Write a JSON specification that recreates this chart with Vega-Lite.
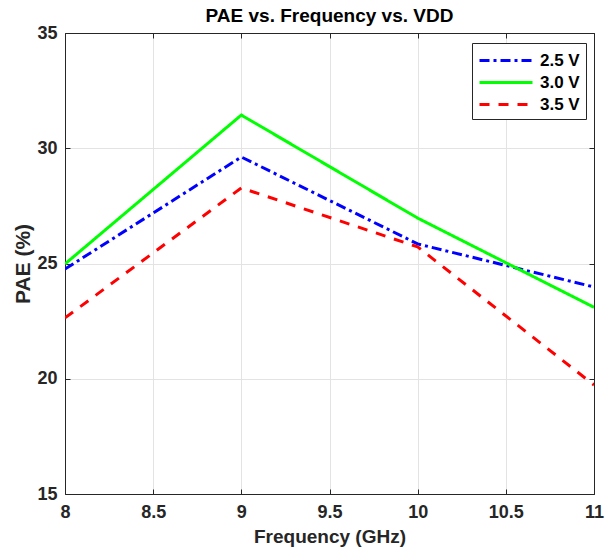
{
  "$schema": "https://vega.github.io/schema/vega-lite/v6.json",
  "width": 529,
  "height": 461,
  "autosize": {"type": "none"},
  "padding": {"left": 65, "top": 33, "right": 19, "bottom": 62},
  "background": "white",
  "title": {"text": "PAE vs. Frequency vs. VDD", "fontSize": 19, "fontWeight": "bold", "font": "Liberation Sans", "color": "#000000", "offset": -2},
  "data": {"values": [
    {"f": 8, "pae": 24.76, "v": "2.5 V"},
    {"f": 9, "pae": 29.62, "v": "2.5 V"},
    {"f": 10, "pae": 25.85, "v": "2.5 V"},
    {"f": 11, "pae": 23.98, "v": "2.5 V"},
    {"f": 8, "pae": 24.98, "v": "3.0 V"},
    {"f": 9, "pae": 31.44, "v": "3.0 V"},
    {"f": 10, "pae": 26.97, "v": "3.0 V"},
    {"f": 11, "pae": 23.1, "v": "3.0 V"},
    {"f": 8, "pae": 22.64, "v": "3.5 V"},
    {"f": 9, "pae": 28.28, "v": "3.5 V"},
    {"f": 10, "pae": 25.72, "v": "3.5 V"},
    {"f": 11, "pae": 19.73, "v": "3.5 V"}
  ]},
  "config": {
    "view": {"stroke": "#262626", "strokeWidth": 1},
    "font": "Liberation Sans",
    "axis": {
      "labelFont": "Liberation Sans", "labelFontSize": 18, "labelFontWeight": "bold", "labelColor": "#262626",
      "titleFont": "Liberation Sans", "titleFontSize": 19, "titleFontWeight": "bold", "titleColor": "#262626",
      "domainColor": "#262626", "tickColor": "#262626", "tickSize": -5,
      "gridColor": "#e3e3e3", "gridWidth": 1
    },
    "legend": {
      "title": null, "orient": "none", "legendX": 407, "legendY": 10,
      "symbolType": "M-1,0H4.3", "symbolSize": 400, "symbolStrokeWidth": 3, "symbolFillColor": "transparent",
      "labelFontSize": 17, "labelFontWeight": "bold", "labelColor": "#000000", "labelFont": "Liberation Sans",
      "strokeColor": "#262626", "fillColor": "white", "padding": 6, "rowPadding": 2, "labelOffset": 39
    }
  },
  "resolve": {"axis": {"x": "independent", "y": "independent"}},
  "layer": [
    {
      "mark": {"type": "line", "strokeWidth": 3, "clip": true},
      "encoding": {
        "x": {"field": "f", "type": "quantitative", "scale": {"domain": [8, 11], "nice": false, "zero": false},
              "axis": {"title": "Frequency (GHz)", "values": [8, 8.5, 9, 9.5, 10, 10.5, 11], "labelPadding": 14, "titlePadding": 6, "format": "~g", "labelFlush": false}},
        "y": {"field": "pae", "type": "quantitative", "scale": {"domain": [15, 35], "nice": false, "zero": false},
              "axis": {"title": "PAE (%)", "titleFontSize": 21, "values": [15, 20, 25, 30, 35], "labelPadding": 13, "titlePadding": 3}},
        "color": {"field": "v", "type": "nominal",
                  "scale": {"domain": ["2.5 V", "3.0 V", "3.5 V"], "range": ["#0000ff", "#00ff00", "#ff0000"]}},
        "strokeDash": {"field": "v", "type": "nominal",
                       "scale": {"domain": ["2.5 V", "3.0 V", "3.5 V"], "range": [[10, 4, 3, 4], [1, 0], [10, 9]]}}
      }
    },
    {
      "mark": {"type": "line", "opacity": 0},
      "encoding": {
        "x": {"field": "f", "type": "quantitative", "axis": {"orient": "top", "title": null, "labels": false, "grid": false, "values": [8, 8.5, 9, 9.5, 10, 10.5, 11]}},
        "y": {"field": "pae", "type": "quantitative", "axis": {"orient": "right", "title": null, "labels": false, "grid": false, "values": [15, 20, 25, 30, 35]}},
        "detail": {"field": "v"}
      }
    }
  ]
}
